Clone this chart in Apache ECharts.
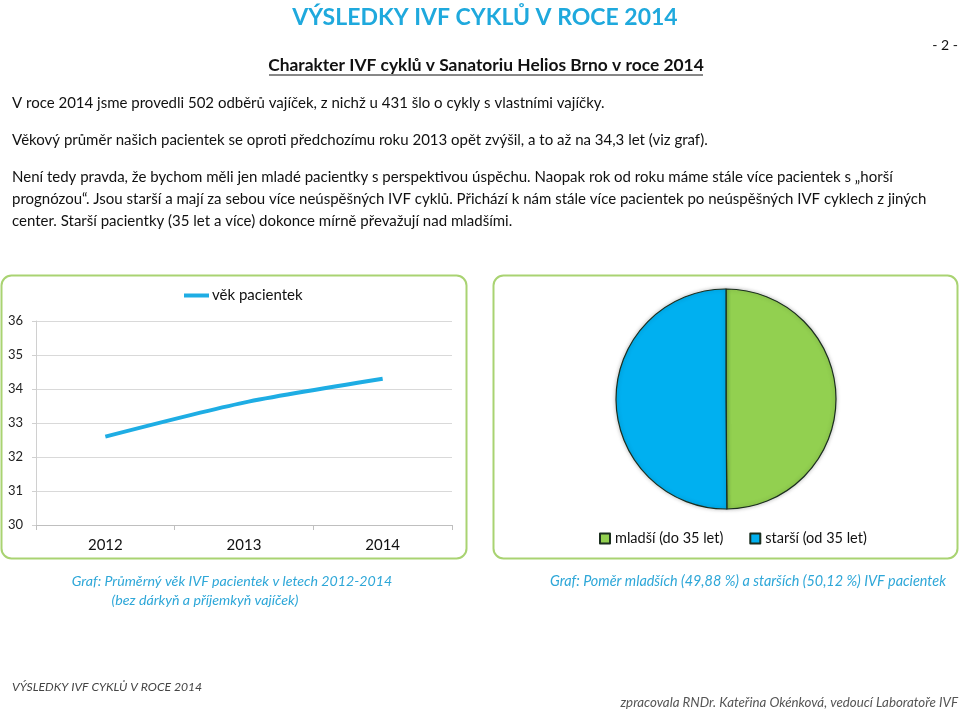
<!DOCTYPE html>
<html><head><meta charset="utf-8">
<script src="https://cdn.jsdelivr.net/npm/echarts@6/dist/echarts.min.js"></script>
<style>html,body{margin:0;padding:0;background:#fff}#c{width:960px;height:711px}</style>
</head><body><div id="c"></div>
<script>
var years = ['2012', '2013', '2014'];
var ageValues = [32.6, 33.6, 34.3];
var lineSeriesName = 'věk pacientek';
var pieNames = ['mladší (do 35 let)', 'starší (od 35 let)'];
var pieValues = [49.88, 50.12];
var yTicks = {min: 30, max: 36, interval: 1};

var F = 'Lato, "Open Sans", sans-serif';
var paraColor = '#111';
var paras = [
  ['V roce 2014 jsme provedli 502 odběrů vajíček, z nichž u 431 šlo o cykly s vlastními vajíčky.', 103],
  ['Věkový průměr našich pacientek se oproti předchozímu roku 2013 opět zvýšil, a to až na 34,3 let (viz graf).', 140],
  ['Není tedy pravda, že bychom měli jen mladé pacientky s perspektivou úspěchu. Naopak rok od roku máme stále více pacientek s „horší', 177],
  ['prognózou“. Jsou starší a mají za sebou více neúspěšných IVF cyklů. Přichází k nám stále více pacientek po neúspěšných IVF cyklech z jiných', 199],
  ['center. Starší pacientky (35 let a více) dokonce mírně převažují nad mladšími.', 221]
];
var graphics = [
  {type: 'rect', shape: {x: 1.5, y: 275.5, width: 465, height: 283, r: 10}, style: {fill: 'none', stroke: '#A9D372', lineWidth: 2}, z: 0},
  {type: 'rect', shape: {x: 493.5, y: 275.5, width: 464, height: 283, r: 10}, style: {fill: 'none', stroke: '#A9D372', lineWidth: 2}, z: 0},
  {type: 'text', x: 485, y: 18, style: {text: 'VÝSLEDKY IVF CYKLŮ V ROCE 2014', font: 'bold 23px ' + F, fill: '#1FA9DD', textAlign: 'center', textVerticalAlign: 'middle'}},
  {type: 'text', x: 486, y: 65, style: {text: 'Charakter IVF cyklů v Sanatoriu Helios Brno v roce 2014', font: 'bold 17.4px ' + F, fill: '#111', textAlign: 'center', textVerticalAlign: 'middle'}},
  {type: 'line', shape: {x1: 269, y1: 75, x2: 703, y2: 75}, style: {stroke: '#111', lineWidth: 1}},
  {type: 'text', x: 958, y: 45, style: {text: '- 2 -', font: '14px ' + F, fill: '#111', textAlign: 'right', textVerticalAlign: 'middle'}},
  {type: 'text', x: 232, y: 581, style: {text: 'Graf: Průměrný věk IVF pacientek v letech 2012-2014', font: 'italic 14.2px ' + F, fill: '#2EA7D8', textAlign: 'center', textVerticalAlign: 'middle'}},
  {type: 'text', x: 205, y: 600, style: {text: '(bez dárkyň a příjemkyň vajíček)', font: 'italic 14.2px ' + F, fill: '#2EA7D8', textAlign: 'center', textVerticalAlign: 'middle'}},
  {type: 'text', x: 748, y: 581, style: {text: 'Graf: Poměr mladších (49,88 %) a starších (50,12 %) IVF pacientek', font: 'italic 14.4px ' + F, fill: '#2EA7D8', textAlign: 'center', textVerticalAlign: 'middle'}},
  {type: 'text', x: 12, y: 687, style: {text: 'VÝSLEDKY IVF CYKLŮ V ROCE 2014', font: 'italic 12.2px ' + F, fill: '#444', textVerticalAlign: 'middle'}},
  {type: 'text', x: 958, y: 703, style: {text: 'zpracovala RNDr. Kateřina Okénková, vedoucí Laboratoře IVF', font: 'italic 13.3px ' + F, fill: '#555', textAlign: 'right', textVerticalAlign: 'middle'}}
];
paras.forEach(function (p) {
  graphics.push({type: 'text', x: 12, y: p[1], style: {text: p[0], font: '15px ' + F, fill: paraColor, textVerticalAlign: 'middle'}});
});

var chart = echarts.init(document.getElementById('c'));
chart.setOption({
  animation: false,
  textStyle: {fontFamily: F},
  graphic: graphics,
  legend: [
    {left: 179, top: 283, itemWidth: 25, itemHeight: 4, itemGap: 10,
     data: [{name: lineSeriesName, icon: 'rect'}],
     textStyle: {fontSize: 15, color: '#111', fontFamily: F, padding: [0, 0, 0, -2]}},
    {left: 594, top: 526, itemWidth: 10, itemHeight: 10, itemGap: 26,
     data: pieNames.map(function (n) { return {name: n, icon: 'rect'}; }),
     textStyle: {fontSize: 14.5, color: '#111', fontFamily: F}}
  ],
  grid: {left: 36, top: 321, width: 416, height: 204, containLabel: false},
  xAxis: {type: 'category', data: years, boundaryGap: true,
    axisLine: {lineStyle: {color: '#BFBFBF'}},
    axisTick: {show: true, length: 5, lineStyle: {color: '#BFBFBF'}},
    axisLabel: {fontSize: 15, color: '#111', margin: 13, fontFamily: F}},
  yAxis: {type: 'value', min: yTicks.min, max: yTicks.max, interval: yTicks.interval,
    axisLine: {show: true, lineStyle: {color: '#D0D0D0'}},
    axisTick: {show: true, length: 4, lineStyle: {color: '#D0D0D0'}},
    splitLine: {lineStyle: {color: '#D9D9D9'}},
    axisLabel: {fontSize: 13, color: '#222', margin: 13, align: 'right', fontFamily: F}},
  series: [
    {type: 'line', name: lineSeriesName, data: ageValues, smooth: 0.25, symbol: 'none',
     lineStyle: {width: 4, color: '#1EADE4'}, itemStyle: {color: '#1EADE4'}},
    {type: 'pie', center: [726, 399], radius: 110, startAngle: 90, clockwise: true,
     label: {show: false}, labelLine: {show: false},
     itemStyle: {borderColor: '#1B2E1F', borderWidth: 1.2, shadowColor: 'rgba(0,0,0,0.25)', shadowBlur: 4},
     data: pieNames.map(function (n, i) {
       return {name: n, value: pieValues[i], itemStyle: {color: i === 0 ? '#92D050' : '#00B0F0'}};
     })}
  ]
});
</script></body></html>
